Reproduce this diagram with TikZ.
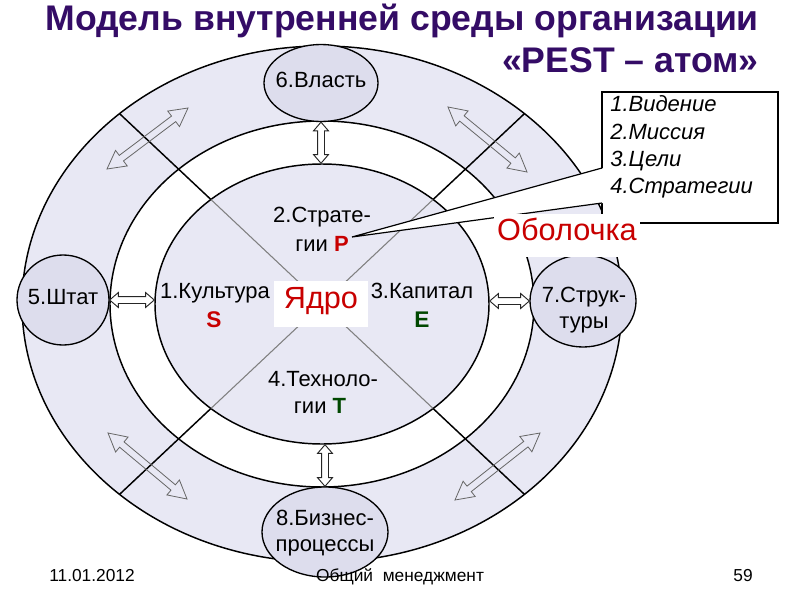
\documentclass[tikz,border=0pt]{standalone}
\usepackage{fontspec}
\setmainfont{Liberation Sans}
\usetikzlibrary{calc,shapes.geometric}
\definecolor{ringc}{RGB}{232,232,244}
\definecolor{nodec}{RGB}{221,221,237}
\definecolor{titlec}{RGB}{52,12,102}
\definecolor{redc}{RGB}{200,0,0}
\definecolor{greenc}{RGB}{0,72,0}
\newcommand\myfs[2]{\fontsize{#1}{#2}\selectfont}
\newcommand\myDblArrow[6]{%
  \draw[#1] (#2) -- ($($(#2)!#6!(#3)$)!#5!90:(#3)$) -- ($($(#2)!#6!(#3)$)!#4!90:(#3)$)
   -- ($($(#3)!#6!(#2)$)!#4!-90:(#2)$) -- ($($(#3)!#6!(#2)$)!#5!-90:(#2)$) -- (#3)
   -- ($($(#3)!#6!(#2)$)!#5!90:(#2)$) -- ($($(#3)!#6!(#2)$)!#4!90:(#2)$)
   -- ($($(#2)!#6!(#3)$)!#4!-90:(#3)$) -- ($($(#2)!#6!(#3)$)!#5!-90:(#3)$) -- cycle;}
\tikzset{
  ringell/.style={ellipse, draw=black, line width=1.1pt, inner sep=0pt},
  elnode/.style={ellipse, draw=black, line width=1pt, fill=nodec, inner sep=0pt},
  blackline/.style={draw=black, line width=1.1pt},
  grayline/.style={draw=black!50, line width=0.8pt},
  diagarrow/.style={draw=black!60, line width=0.6pt},
  corearrow/.style={draw=black!85, fill=white, line width=0.7pt},
  txt/.style={inner sep=0pt, text height=0.72em, text depth=0pt, font=\myfs{16.5}{20}},
  bigred/.style={inner sep=0pt, text height=0.72em, text depth=0pt, text=redc, font=\myfs{23}{26}, fill=white},
  letr/.style={inner sep=0pt, text height=0.72em, text depth=0pt, text=redc, font=\bfseries\myfs{17}{20}},
  letg/.style={inner sep=0pt, text height=0.72em, text depth=0pt, text=greenc, font=\bfseries\myfs{17}{20}},
  ctxt/.style={inner sep=0pt, anchor=west, text height=0.72em, text depth=0pt, font=\itshape\myfs{16.5}{20}},
  foot/.style={inner sep=0pt, text height=0.72em, text depth=0pt, font=\myfs{13}{15}},
  titlet/.style={inner sep=0pt, anchor=base east, text=titlec, font=\bfseries\myfs{26.7}{30}}
}
\begin{document}
\begin{tikzpicture}[x=0.75pt,y=-0.75pt]
\useasboundingbox[fill=white] (0,0) rectangle (800,600);

% rings
\node[ringell, fill=ringc, minimum width=450pt, minimum height=387pt] (outer) at (322,304) {};
\node[ringell, fill=white, minimum width=318pt, minimum height=274.5pt] (ringin) at (322,304) {};

\coordinate (cen) at (322,304);
\coordinate (oUL) at (119.5,113.6);
\coordinate (oUR) at (524.5,113.6);
\coordinate (oLL) at (119.5,494.4);
\coordinate (oLR) at (524.5,494.4);
\coordinate (cUL) at (211,199.6);
\coordinate (cUR) at (433,199.6);
\coordinate (cLL) at (211,408.4);
\coordinate (cLR) at (433,408.4);
\draw[blackline] (cUL) -- (oUL);
\draw[blackline] (cUR) -- (oUR);
\draw[blackline] (cLL) -- (oLL);
\draw[blackline] (cLR) -- (oLR);

% core
\node[ringell, fill=ringc, minimum width=250.5pt, minimum height=210pt] (core) at (322,304) {};
\draw[grayline] (cUL) -- (cen);
\draw[grayline] (cUR) -- (cen);
\draw[grayline] (cLL) -- (cen);
\draw[grayline] (cLR) -- (cen);

% diagonal hollow arrows in the ring
\coordinate (ulA) at (107,169); \coordinate (ulB) at (188,108);
\coordinate (urA) at (448,107); \coordinate (urB) at (527,172);
\coordinate (llA) at (108,433); \coordinate (llB) at (187,499);
\coordinate (lrA) at (455,500); \coordinate (lrB) at (540,433);
\myDblArrow{diagarrow}{ulA}{ulB}{2.6pt}{7.3pt}{13.5pt}
\myDblArrow{diagarrow}{urA}{urB}{2.6pt}{7.3pt}{13.5pt}
\myDblArrow{diagarrow}{llA}{llB}{2.6pt}{7.3pt}{13.5pt}
\myDblArrow{diagarrow}{lrA}{lrB}{2.6pt}{7.3pt}{13.5pt}

% outer nodes
\node[elnode, minimum width=85.5pt, minimum height=57.75pt] (vlast) at (321,83) {};
\node[elnode, minimum width=69pt, minimum height=67.5pt] (shtat) at (63,300) {};
\node[elnode, minimum width=79.5pt, minimum height=69pt] (struct) at (583,301) {};
\node[elnode, minimum width=94.5pt, minimum height=67.5pt] (biz) at (325,532) {};

\node[txt] (vlastT) at (vlast) {6.Власть};
\node[txt] (shtatT) at (shtat) {5.Штат};
\node[txt] (structT1) at (584,298) {7.Струк-};
\node[txt] (structT2) at (584,324) {туры};
\node[txt] (bizT1) at (325,521) {8.Бизнес-};
\node[txt] (bizT2) at (325,547) {процессы};

% connectors node <-> core
\coordinate (vA) at (vlast.south);
\coordinate (vB) at (vlast.south |- core.north);
\coordinate (sA) at (shtat.east);
\coordinate (sB) at (core.west |- shtat.east);
\coordinate (tA) at (core.east |- struct.west);
\coordinate (tB) at (struct.west);
\coordinate (bA) at (biz.north |- core.south);
\coordinate (bB) at (biz.north);
\myDblArrow{corearrow}{vA}{vB}{2.6pt}{5.6pt}{6.5pt}
\myDblArrow{corearrow}{sA}{sB}{2.6pt}{5.6pt}{6.5pt}
\myDblArrow{corearrow}{tA}{tB}{2.6pt}{5.6pt}{6.5pt}
\myDblArrow{corearrow}{bA}{bB}{2.6pt}{5.6pt}{6.5pt}

% core texts
\node[txt] (strat1) at (322,218) {2.Страте-};
\node[txt] (strat2) at (322,247) {гии \textcolor{redc}{\bfseries P}};
\node[txt] (kult) at (215,294) {1.Культура};
\node[letr] (letS) at (214,323) {S};
\node[txt] (kap) at (422,294) {3.Капитал};
\node[letg] (letE) at (422,323) {E};
\node[txt] (tech1) at (323,382) {4.Техноло-};
\node[txt] (tech2) at (320,409) {гии \textcolor{greenc}{\bfseries T}};

% core label
\node[bigred, minimum width=70.5pt, minimum height=34.5pt] (yadro) at (321,304) {Ядро};

% callout
\node[draw=black, line width=0.9pt, fill=white, minimum width=132pt, minimum height=98.25pt, inner sep=0pt] (callout) at (690,157.5) {};
\coordinate (tip) at (352,237);
\fill[white] (603.6,168) -- (tip) -- (603.6,203) -- cycle;
\draw[line width=0.9pt, line join=miter] (602,168) -- (tip) -- (602,203);
\node[ctxt] (c1) at (610,107) {1.Видение};
\node[ctxt] (c2) at (610,135) {2.Миссия};
\node[ctxt] (c3) at (610,162) {3.Цели};
\node[ctxt] (c4) at (610,189) {4.Стратегии};

% shell label
\node[bigred, minimum width=109.5pt, minimum height=32.25pt] (obol) at (567,235.5) {Оболочка};

% title
\node[titlet] (title1) at (759,30) {Модель внутренней среды организации};
\node[titlet] (title2) at (759,72) {«PEST – атом»};

% footer
\node[foot, anchor=west] (date) at (49,577) {11.01.2012};
\node[foot] (subj) at (400,577) {Общий\ \ менеджмент};
\node[foot] (page) at (743,577) {59};
\end{tikzpicture}
\end{document}
